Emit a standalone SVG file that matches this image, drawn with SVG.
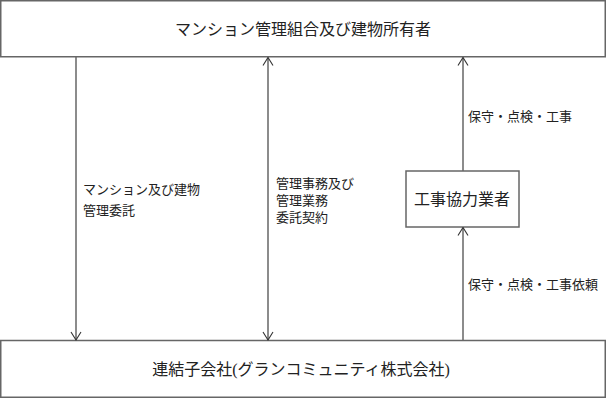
<svg xmlns="http://www.w3.org/2000/svg" width="606" height="398" viewBox="0 0 606 398">
<defs>
<marker id="ah" markerWidth="12" markerHeight="12" refX="11" refY="6" orient="auto-start-reverse" markerUnits="userSpaceOnUse" viewBox="0 0 12 12">
<path d="M3,1 L11,6 L3,11" fill="none" stroke="#333" stroke-width="1.1"/>
</marker>
</defs>
<style>
.box{fill:#fff;stroke:#666;stroke-width:1.5}
.t{font-family:"Liberation Serif","Noto Sans CJK JP",serif;fill:#222}
.big{font-size:16px}
.sm{font-size:13px}
.ln{stroke:#666;stroke-width:1.5;fill:none}
</style>
<rect width="606" height="398" fill="#fff"/>
<g id="owners">
<rect class="box" x="0.75" y="0.75" width="604.5" height="56"/>
<text class="t big" x="303" y="35" text-anchor="middle">マンション管理組合及び建物所有者</text>
</g>
<g id="company">
<rect class="box" x="0.75" y="340.5" width="604.5" height="56.75"/>
<text class="t big" x="301" y="375" text-anchor="middle">連結子会社(グランコミュニティ株式会社)</text>
</g>
<g id="contractor">
<rect class="box" x="406" y="171" width="113" height="56"/>
<text class="t big" x="462" y="205" text-anchor="middle">工事協力業者</text>
</g>
<g id="connectors">
<line class="ln" x1="76" y1="57" x2="76" y2="340" marker-end="url(#ah)"/>
<line class="ln" x1="268" y1="57.5" x2="268" y2="340" marker-start="url(#ah)" marker-end="url(#ah)"/>
<line class="ln" x1="463" y1="171" x2="463" y2="57.5" marker-end="url(#ah)"/>
<line class="ln" x1="463" y1="340" x2="463" y2="227.5" marker-end="url(#ah)"/>
</g>
<g id="labels">
<text class="t sm" x="83" y="194">マンション及び建物</text>
<text class="t sm" x="83" y="215">管理委託</text>
<text class="t sm" x="276" y="188">管理事務及び</text>
<text class="t sm" x="276" y="205">管理業務</text>
<text class="t sm" x="276" y="222">委託契約</text>
<text class="t sm" x="468" y="121">保守・点検・工事</text>
<text class="t sm" x="468" y="289">保守・点検・工事依頼</text>
</g>
</svg>
